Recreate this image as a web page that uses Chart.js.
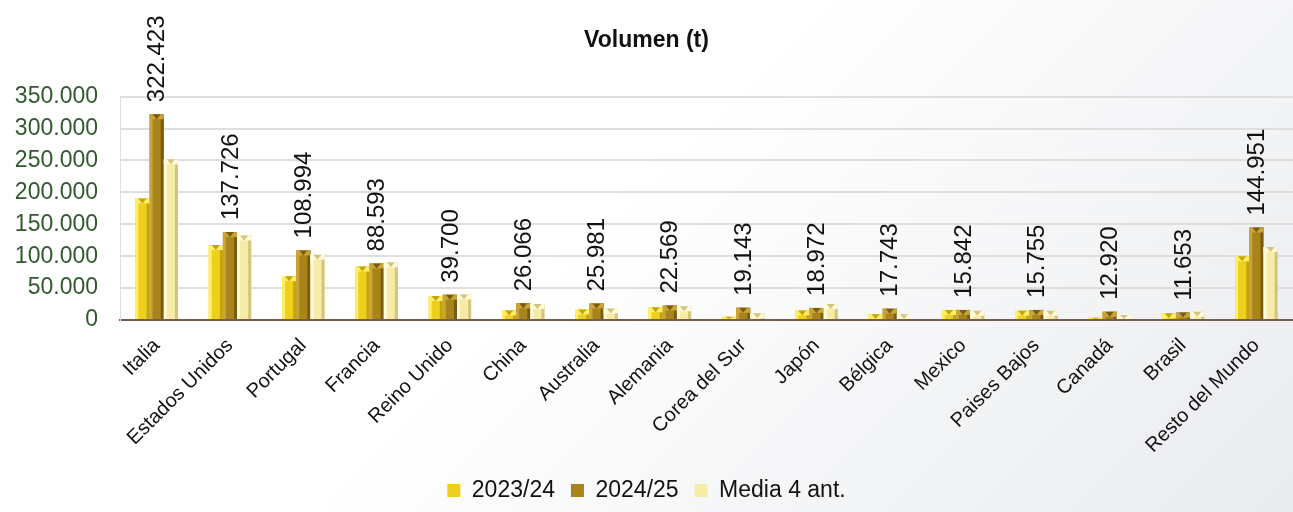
<!DOCTYPE html>
<html>
<head>
<meta charset="utf-8">
<script src="https://cdn.jsdelivr.net/npm/chart.js@4.4.1/dist/chart.umd.min.js"></script>
<style>
  html, body { margin: 0; padding: 0; background: #fff; }
  #wrap {
    width: 1293px; height: 512px; position: relative;
    background: linear-gradient(135deg, #ffffff 0%, #ffffff 45%, #e9ebee 100%);
  }
</style>
</head>
<body>
<div id="wrap"><canvas id="chartVolumen"></canvas></div>
<script>
// ---------- Données ----------
const paises = ['Italia', 'Estados Unidos', 'Portugal', 'Francia', 'Reino Unido', 'China', 'Australia',
    'Alemania', 'Corea del Sur', 'Japón', 'Bélgica', 'Mexico', 'Paises Bajos', 'Canadá', 'Brasil', 'Resto del Mundo'];
const campana2324 = [190500, 117400, 68600, 83700, 37600, 15000, 16500, 20000, 5000, 15000, 9000, 15600, 14500, 3500, 10500, 99800];
const campana2425 = [322423, 137726, 108994, 88593, 39700, 26066, 25981, 22569, 19143, 18972, 17743, 15842, 15755, 12920, 11653, 144951];
const media4ant = [251700, 132400, 102300, 90300, 40000, 25000, 18000, 21600, 10500, 25000, 9000, 14500, 14500, 8000, 13000, 114400];
const ticksY = [0, 50000, 100000, 150000, 200000, 250000, 300000, 350000];

// couleurs : base / clair / foncé
const colores = [
    { base: '#EFCF1E', light: '#FFEE66', dark: '#C4A30C' },
    { base: '#A8841A', light: '#C9A43A', dark: '#7A5C0C' },
    { base: '#F6ECA8', light: '#FFFBDC', dark: '#D4C47C' }
];

const fmt = v => v.toLocaleString('de-DE');

// effet biseau sur les barres
const biseauPlugin = {
    id: 'biseau',
    afterDatasetsDraw(chart) {
        const ctx = chart.ctx;
        ctx.save();
        chart.data.datasets.forEach((ds, di) => {
            const meta = chart.getDatasetMeta(di);
            const c = colores[di];
            meta.data.forEach(bar => {
                const w = bar.width, x0 = bar.x - w / 2, x1 = bar.x + w / 2;
                const top = bar.y, h = bar.base - bar.y;
                const s = Math.min(3, w / 4);
                ctx.fillStyle = c.light;
                ctx.fillRect(x0, top, s, h);
                ctx.fillStyle = c.dark;
                ctx.fillRect(x1 - s, top, s, h);
                // chapeau pyramidal
                const capH = Math.min(5, h);
                ctx.fillStyle = c.light;
                ctx.fillRect(x0, top, w, capH);
                ctx.fillStyle = c.dark;
                ctx.beginPath();
                ctx.moveTo(x0 + s, top);
                ctx.lineTo(x1 - s, top);
                ctx.lineTo(bar.x, top + capH);
                ctx.closePath();
                ctx.fill();
            });
        });
        ctx.restore();
    }
};

// valeurs 2024/25, verticales au-dessus des barres
const valeursPlugin = {
    id: 'valeurs',
    afterDraw(chart) {
        const ctx = chart.ctx;
        chart.getDatasetMeta(1).data.forEach((bar, i) => {
            ctx.save();
            ctx.fillStyle = '#111';
            ctx.font = '24px "Liberation Sans", Arial, sans-serif';
            ctx.textAlign = 'left';
            ctx.textBaseline = 'middle';
            ctx.translate(bar.x + 1, bar.y - 12);
            ctx.rotate(-Math.PI / 2);
            ctx.fillText(fmt(campana2425[i]), 0, 0);
            ctx.restore();
        });
    }
};

function datasetBarres(label, data, c) {
    return {
        label: label,
        data: data,
        backgroundColor: c.base,
        borderWidth: 0,
        categoryPercentage: 0.58,
        barPercentage: 1.0
    };
}

const ctx = document.getElementById('chartVolumen').getContext('2d');
new Chart(ctx, {
    type: 'bar',
    data: {
        labels: paises,
        datasets: [
            datasetBarres('2023/24', campana2324, colores[0]),
            datasetBarres('2024/25', campana2425, colores[1]),
            datasetBarres('Media 4 ant.', media4ant, colores[2])
        ]
    },
    options: {
        responsive: true,
        maintainAspectRatio: false,
        animation: false,
        layout: { padding: { top: 27 } },
        scales: {
            x: {
                grid: { display: false },
                border: { display: true, color: '#7a5a48', width: 2 },
                ticks: {
                    color: '#111',
                    font: { size: 20 },
                    maxRotation: 45,
                    minRotation: 45,
                    padding: 6,
                    autoSkip: false
                },
                afterFit(scale) { scale.height = 143; }
            },
            y: {
                min: 0,
                max: 350000,
                afterBuildTicks(scale) { scale.ticks = ticksY.map(v => ({ value: v })); },
                grid: { color: '#dedede', lineWidth: 2, drawTicks: false },
                border: { display: true, color: '#dedede' },
                ticks: {
                    color: '#2f5a2a',
                    padding: 22,
                    font: { size: 23 },
                    callback: v => fmt(v)
                },
                afterFit(scale) { scale.width = 120; }
            }
        },
        plugins: {
            title: {
                display: true,
                text: 'Volumen (t)',
                color: '#111',
                font: { size: 23, weight: 'bold' },
                padding: { top: 0, bottom: 42 }
            },
            legend: {
                position: 'bottom',
                labels: {
                    color: '#111',
                    font: { size: 23 },
                    boxWidth: 13,
                    boxHeight: 13,
                    padding: 16
                }
            },
            tooltip: { enabled: false }
        }
    },
    plugins: [biseauPlugin, valeursPlugin]
});
</script>
</body>
</html>
